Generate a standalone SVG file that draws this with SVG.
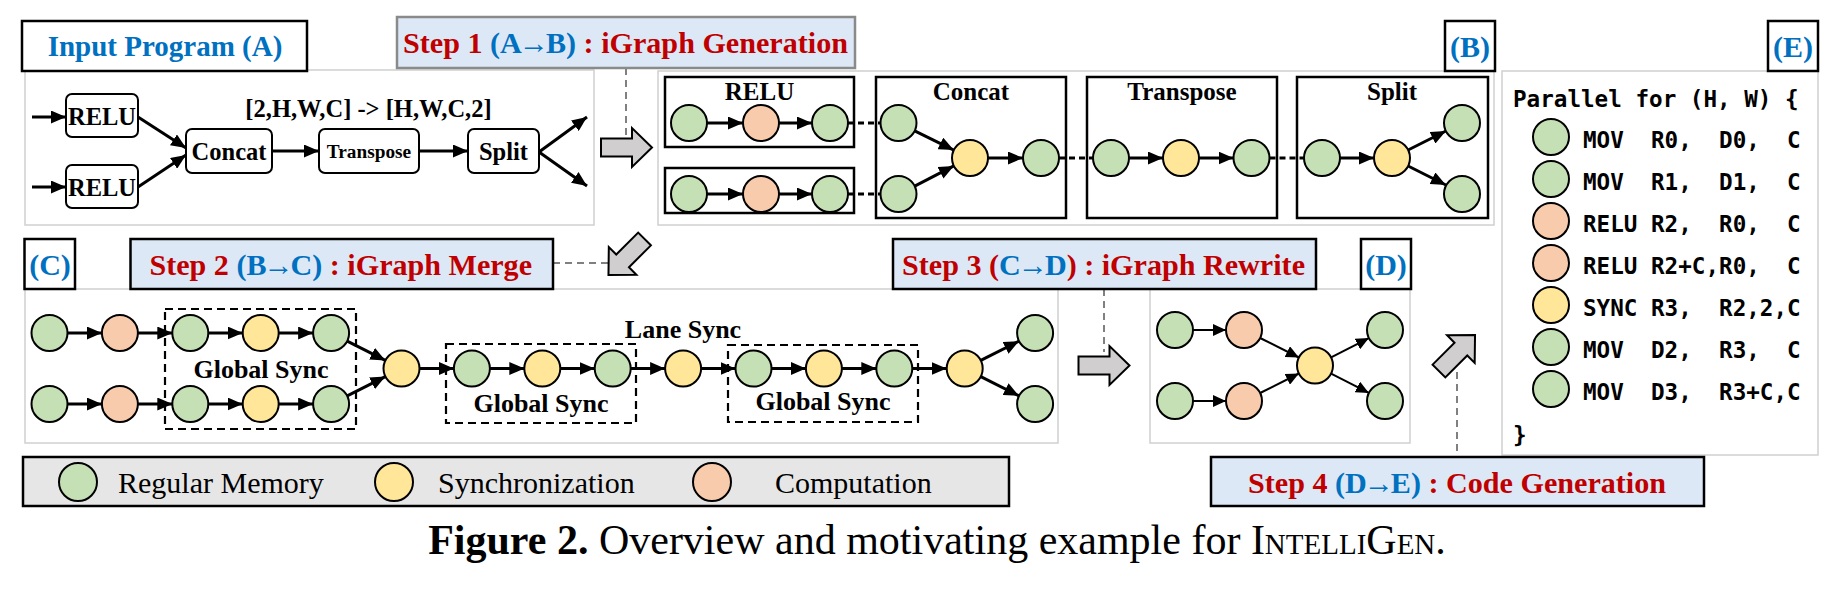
<svg xmlns="http://www.w3.org/2000/svg" width="1836" height="590" viewBox="0 0 1836 590">
<style>
.panel{fill:#fff;stroke:#d0d0d0;stroke-width:1.5}
.lbl{fill:#fff;stroke:#000;stroke-width:2.5}
.lt{font-family:"Liberation Serif","Times New Roman",serif;font-weight:bold;font-size:30px;fill:#0070c0;text-anchor:middle}
.step{fill:#dce8f5;stroke:#000;stroke-width:2.5}
.st{font-family:"Liberation Serif","Times New Roman",serif;font-weight:bold;font-size:30px;fill:#c00000}
.blue{fill:#0070c0}
.op{fill:#fff;stroke:#000;stroke-width:2}
.ot{font-family:"Liberation Serif","Times New Roman",serif;font-weight:bold;font-size:24.5px;fill:#000;text-anchor:middle}
.bt{font-family:"Liberation Serif","Times New Roman",serif;font-weight:bold;font-size:25px;fill:#000;text-anchor:middle}
.box{fill:#fff;stroke:#000;stroke-width:2.5}
.g{fill:#c5e0b4;stroke:#000;stroke-width:2}
.o{fill:#f8cbad;stroke:#000;stroke-width:2}
.y{fill:#ffe699;stroke:#000;stroke-width:2}
.e{stroke:#000;stroke-width:3;fill:none;marker-end:url(#ah)}
.e2{stroke:#000;stroke-width:2;fill:none;marker-end:url(#ah2)}
.ed{stroke:#000;stroke-width:3;fill:none;stroke-dasharray:6 4}
.gd{stroke:#808080;stroke-width:2;fill:none;stroke-dasharray:7 5}
.db{fill:none;stroke:#000;stroke-width:2.2;stroke-dasharray:8 5}
.ba{fill:#d0cece;stroke:#000;stroke-width:2}
.code{font-family:"DejaVu Sans Mono","Liberation Mono",monospace;font-weight:bold;font-size:22.6px;fill:#000;white-space:pre}
.leg{font-family:"Liberation Serif","Times New Roman",serif;font-size:30px;fill:#000}
</style>
<defs>
<marker id="ah" markerUnits="userSpaceOnUse" markerWidth="15" markerHeight="13" refX="15" refY="6.5" orient="auto" viewBox="0 0 15 13"><path d="M0,0 L15,6.5 L0,13 z" fill="#000"/></marker>
<marker id="ah2" markerUnits="userSpaceOnUse" markerWidth="13" markerHeight="12" refX="13" refY="6" orient="auto" viewBox="0 0 13 12"><path d="M0,0 L13,6 L0,12 z" fill="#000"/></marker>
<path id="barrow" d="M-25.5,-9 H5.5 V-19.5 L25.5,0 L5.5,19.5 V9 H-25.5 Z"/>
</defs>

<!-- Panels -->
<g id="panelA">
<rect class="panel" x="25" y="70" width="569" height="155"/>
<rect class="lbl" x="22" y="21" width="285" height="50"/>
<text class="lt" x="165" y="56" style="font-size:29px">Input Program (A)</text>
</g>
<g id="panelB">
<rect class="panel" x="658" y="71" width="836" height="154"/>
<rect class="lbl" x="1445" y="21" width="50" height="50"/>
<text class="lt" x="1470" y="57">(B)</text>
</g>
<g id="panelC">
<rect class="panel" x="25" y="289" width="1033" height="154"/>
<rect class="lbl" x="24.5" y="239" width="50.5" height="50"/>
<text class="lt" x="50" y="275">(C)</text>
</g>
<g id="panelD">
<rect class="panel" x="1150" y="289" width="260" height="154"/>
<rect class="lbl" x="1361" y="239" width="50" height="50"/>
<text class="lt" x="1386" y="275">(D)</text>
</g>
<g id="panelE">
<rect class="panel" x="1502" y="71" width="316" height="384"/>
<rect class="lbl" x="1768" y="21" width="50" height="50"/>
<text class="lt" x="1793" y="57">(E)</text>
</g>

<!-- Panel B operator boxes -->
<g id="b-relu1"><rect class="box" x="665" y="77" width="189" height="70"/><text class="bt" x="759.5" y="100">RELU</text></g>
<g id="b-relu2"><rect class="box" x="665" y="168" width="189" height="45"/></g>
<g id="b-concat"><rect class="box" x="876" y="77" width="190" height="141"/><text class="bt" x="971" y="100">Concat</text></g>
<g id="b-transpose"><rect class="box" x="1087" y="77" width="190" height="141"/><text class="bt" x="1182" y="100">Transpose</text></g>
<g id="b-split"><rect class="box" x="1297" y="77" width="191" height="141"/><text class="bt" x="1392" y="100">Split</text></g>

<!-- Connectors -->
<g id="connectors">
<line class="gd" x1="626" y1="68" x2="626" y2="142"/>
<line class="gd" x1="553" y1="263" x2="612" y2="263"/>
<line class="gd" x1="1104" y1="289" x2="1104" y2="352"/>
<line class="gd" x1="1457" y1="372" x2="1457" y2="457"/>
<line class="e" x1="32" y1="117" x2="66" y2="117"/>
<line class="e" x1="32" y1="187" x2="66" y2="187"/>
<line class="e" x1="138" y1="117" x2="186" y2="148"/>
<line class="e" x1="138" y1="187" x2="186" y2="155"/>
<line class="e" x1="272" y1="151" x2="319" y2="151"/>
<line class="e" x1="419" y1="151" x2="468" y2="151"/>
<line class="e" x1="539" y1="152" x2="587" y2="117"/>
<line class="e" x1="539" y1="152" x2="587" y2="186"/>
<line class="e" x1="707" y1="123" x2="743" y2="123"/>
<line class="e" x1="779" y1="123" x2="812" y2="123"/>
<line class="e" x1="707" y1="194" x2="743" y2="194"/>
<line class="e" x1="779" y1="194" x2="812" y2="194"/>
<line class="ed" x1="848" y1="123" x2="880.5" y2="123"/>
<line class="ed" x1="848" y1="194" x2="880.5" y2="194"/>
<line class="e" x1="914.7" y1="130.9" x2="953.8" y2="150.1"/>
<line class="e" x1="914.7" y1="186.1" x2="953.8" y2="165.9"/>
<line class="e" x1="988" y1="158" x2="1023" y2="158"/>
<line class="ed" x1="1059" y1="158" x2="1093" y2="158"/>
<line class="e" x1="1129" y1="158" x2="1163" y2="158"/>
<line class="e" x1="1199" y1="158" x2="1233.5" y2="158"/>
<line class="ed" x1="1269.5" y1="158" x2="1304" y2="158"/>
<line class="e" x1="1340" y1="158" x2="1374" y2="158"/>
<line class="e" x1="1408.1" y1="150" x2="1445.9" y2="131"/>
<line class="e" x1="1408.1" y1="166" x2="1445.9" y2="185"/>
<line class="e" x1="67.5" y1="333" x2="101.9" y2="333"/>
<line class="e" x1="137.9" y1="333" x2="172.3" y2="333"/>
<line class="e" x1="208.3" y1="333" x2="242.7" y2="333"/>
<line class="e" x1="278.7" y1="333" x2="313.1" y2="333"/>
<line class="e" x1="67.5" y1="404" x2="101.9" y2="404"/>
<line class="e" x1="137.9" y1="404" x2="172.3" y2="404"/>
<line class="e" x1="208.3" y1="404" x2="242.7" y2="404"/>
<line class="e" x1="278.7" y1="404" x2="313.1" y2="404"/>
<line class="e" x1="347.2" y1="341.1" x2="385.4" y2="360.4"/>
<line class="e" x1="347.2" y1="395.9" x2="385.4" y2="376.6"/>
<line class="e" x1="419.5" y1="368.5" x2="453.9" y2="368.5"/>
<line class="e" x1="489.9" y1="368.5" x2="524.3" y2="368.5"/>
<line class="e" x1="560.3" y1="368.5" x2="594.7" y2="368.5"/>
<line class="e" x1="630.7" y1="368.5" x2="665.1" y2="368.5"/>
<line class="e" x1="701.1" y1="368.5" x2="735.5" y2="368.5"/>
<line class="e" x1="771.5" y1="368.5" x2="805.9" y2="368.5"/>
<line class="e" x1="841.9" y1="368.5" x2="876.3" y2="368.5"/>
<line class="e" x1="912.3" y1="368.5" x2="946.7" y2="368.5"/>
<line class="e" x1="980.8" y1="360.4" x2="1019" y2="341.1"/>
<line class="e" x1="980.8" y1="376.6" x2="1019" y2="395.9"/>
<line class="e2" x1="1193" y1="330" x2="1226" y2="330"/>
<line class="e2" x1="1193" y1="401" x2="1226" y2="401"/>
<line class="e2" x1="1260.1" y1="338" x2="1298.9" y2="357.5"/>
<line class="e2" x1="1260.1" y1="393" x2="1298.9" y2="373.5"/>
<line class="e2" x1="1331.1" y1="357.4" x2="1368.9" y2="338.1"/>
<line class="e2" x1="1331.1" y1="373.6" x2="1368.9" y2="392.9"/>
</g>

<!-- Step boxes -->
<g id="step1">
<rect class="step" x="397" y="17" width="458" height="51" style="stroke:#8a8a8a"/>
<text class="st" x="403" y="53" textLength="445" lengthAdjust="spacingAndGlyphs">Step 1 <tspan class="blue">(A<tspan dx="-3">→</tspan><tspan dx="-3">B)</tspan></tspan> : iGraph Generation</text>
</g>
<g id="step2">
<rect class="step" x="130.5" y="239" width="422.5" height="50"/>
<text class="st" x="149.5" y="275" textLength="382.5" lengthAdjust="spacingAndGlyphs">Step 2 <tspan class="blue">(B<tspan dx="-3">→</tspan><tspan dx="-3">C)</tspan></tspan> : iGraph Merge</text>
</g>
<g id="step3">
<rect class="step" x="893" y="239" width="423" height="50"/>
<text class="st" x="902" y="275" textLength="403" lengthAdjust="spacingAndGlyphs">Step 3 (<tspan class="blue">C<tspan dx="-3">→</tspan><tspan dx="-3">D</tspan></tspan>) : iGraph Rewrite</text>
</g>
<g id="step4">
<rect class="step" x="1211" y="457" width="493" height="49"/>
<text class="st" x="1248" y="493" textLength="418" lengthAdjust="spacingAndGlyphs">Step 4 <tspan class="blue">(D<tspan dx="-3">→</tspan><tspan dx="-3">E)</tspan></tspan> : Code Generation</text>
</g>

<!-- Block arrows -->
<g id="arrow1"><use href="#barrow" class="ba" transform="translate(626.5,147.5)"/></g>
<g id="arrow2"><use href="#barrow" class="ba" transform="translate(626.5,257) rotate(135)"/></g>
<g id="arrow3"><use href="#barrow" class="ba" transform="translate(1104,365.5)"/></g>
<g id="arrow4"><use href="#barrow" class="ba" transform="translate(1457,353) rotate(-45)"/></g>

<!-- Panel A nodes -->
<g id="a-relu1"><rect class="op" x="66" y="94" width="72" height="43" rx="6"/><text class="ot" x="102" y="125">RELU</text></g>
<g id="a-relu2"><rect class="op" x="66" y="165" width="72" height="43" rx="6"/><text class="ot" x="102" y="196">RELU</text></g>
<g id="a-concat"><rect class="op" x="186" y="129" width="86" height="44" rx="6"/><text class="ot" x="229" y="160">Concat</text></g>
<g id="a-transpose"><rect class="op" x="319" y="129" width="100" height="44" rx="6"/><text class="ot" x="369" y="158" style="font-size:19.3px">Transpose</text></g>
<g id="a-split"><rect class="op" x="468" y="129" width="71" height="44" rx="6"/><text class="ot" x="503.5" y="160">Split</text></g>
<g id="a-shape"><text class="ot" x="368.5" y="117">[2,H,W,C] -&gt; [H,W,C,2]</text></g>

<!-- Panel B nodes -->
<g id="b-nodes">
<circle class="g" cx="689" cy="123" r="18"/><circle class="o" cx="761" cy="123" r="18"/><circle class="g" cx="830" cy="123" r="18"/>
<circle class="g" cx="689" cy="194" r="18"/><circle class="o" cx="761" cy="194" r="18"/><circle class="g" cx="830" cy="194" r="18"/>
<circle class="g" cx="898.5" cy="123" r="18"/><circle class="g" cx="898.5" cy="194" r="18"/>
<circle class="y" cx="970" cy="158" r="18"/><circle class="g" cx="1041" cy="158" r="18"/>
<circle class="g" cx="1111" cy="158" r="18"/><circle class="y" cx="1181" cy="158" r="18"/><circle class="g" cx="1251.5" cy="158" r="18"/>
<circle class="g" cx="1322" cy="158" r="18"/><circle class="y" cx="1392" cy="158" r="18"/>
<circle class="g" cx="1462" cy="123" r="18"/><circle class="g" cx="1462" cy="194" r="18"/>
</g>

<!-- Panel C -->
<g id="c-sync1"><rect class="db" x="165" y="309" width="191" height="120"/><text class="bt" x="261" y="378" style="font-size:26px">Global Sync</text></g>
<g id="c-sync2"><rect class="db" x="446" y="344" width="190" height="79"/><text class="bt" x="541" y="412" style="font-size:26px">Global Sync</text></g>
<g id="c-sync3"><rect class="db" x="728" y="345" width="190" height="77"/><text class="bt" x="823" y="410" style="font-size:26px">Global Sync</text></g>
<g id="c-lane"><text class="bt" x="683" y="338" style="font-size:26px">Lane Sync</text></g>
<g id="c-nodes">
<circle class="g" cx="49.5" cy="333" r="18"/><circle class="o" cx="119.9" cy="333" r="18"/><circle class="g" cx="190.3" cy="333" r="18"/><circle class="y" cx="260.7" cy="333" r="18"/><circle class="g" cx="331.1" cy="333" r="18"/>
<circle class="g" cx="49.5" cy="404" r="18"/><circle class="o" cx="119.9" cy="404" r="18"/><circle class="g" cx="190.3" cy="404" r="18"/><circle class="y" cx="260.7" cy="404" r="18"/><circle class="g" cx="331.1" cy="404" r="18"/>
<circle class="y" cx="401.5" cy="368.5" r="18"/><circle class="g" cx="471.9" cy="368.5" r="18"/><circle class="y" cx="542.3" cy="368.5" r="18"/><circle class="g" cx="612.7" cy="368.5" r="18"/>
<circle class="y" cx="683.1" cy="368.5" r="18"/><circle class="g" cx="753.5" cy="368.5" r="18"/><circle class="y" cx="823.9" cy="368.5" r="18"/><circle class="g" cx="894.3" cy="368.5" r="18"/>
<circle class="y" cx="964.7" cy="368.5" r="18"/><circle class="g" cx="1035.1" cy="333" r="18"/><circle class="g" cx="1035.1" cy="404" r="18"/>
</g>

<!-- Panel D -->
<g id="d-nodes">
<circle class="g" cx="1175" cy="330" r="18"/><circle class="g" cx="1175" cy="401" r="18"/>
<circle class="o" cx="1244" cy="330" r="18"/><circle class="o" cx="1244" cy="401" r="18"/>
<circle class="y" cx="1315" cy="365.5" r="18"/>
<circle class="g" cx="1385" cy="330" r="18"/><circle class="g" cx="1385" cy="401" r="18"/>
</g>

<!-- Panel E code -->
<g id="e-code">
<text class="code" x="1513" y="107">Parallel for (H, W) {</text>
<circle class="g" cx="1551" cy="137" r="18"/><text class="code" x="1583" y="148" xml:space="preserve">MOV  R0,  D0,  C</text>
<circle class="g" cx="1551" cy="179" r="18"/><text class="code" x="1583" y="190" xml:space="preserve">MOV  R1,  D1,  C</text>
<circle class="o" cx="1551" cy="221" r="18"/><text class="code" x="1583" y="232" xml:space="preserve">RELU R2,  R0,  C</text>
<circle class="o" cx="1551" cy="263" r="18"/><text class="code" x="1583" y="274" xml:space="preserve">RELU R2+C,R0,  C</text>
<circle class="y" cx="1551" cy="305" r="18"/><text class="code" x="1583" y="316" xml:space="preserve">SYNC R3,  R2,2,C</text>
<circle class="g" cx="1551" cy="347" r="18"/><text class="code" x="1583" y="358" xml:space="preserve">MOV  D2,  R3,  C</text>
<circle class="g" cx="1551" cy="389" r="18"/><text class="code" x="1583" y="400" xml:space="preserve">MOV  D3,  R3+C,C</text>
<text class="code" x="1513" y="443">}</text>
</g>

<!-- Legend -->
<g id="legend">
<rect x="23" y="457" width="986" height="49" fill="#e7e6e6" stroke="#000" stroke-width="2.5"/>
<circle class="g" cx="78" cy="482" r="19"/><text class="leg" x="118" y="493">Regular Memory</text>
<circle class="y" cx="394" cy="482" r="19"/><text class="leg" x="438" y="493">Synchronization</text>
<circle class="o" cx="712" cy="482" r="19"/><text class="leg" x="775" y="493">Computation</text>
</g>

<!-- Caption -->
<g id="caption">
<text x="937" y="554" text-anchor="middle" font-family="Liberation Serif, Times New Roman, serif" font-size="42" fill="#000"><tspan font-weight="bold">Figure 2.</tspan> Overview and motivating example for <tspan font-variant="small-caps">IntelliGen</tspan>.</text>
</g>
</svg>
